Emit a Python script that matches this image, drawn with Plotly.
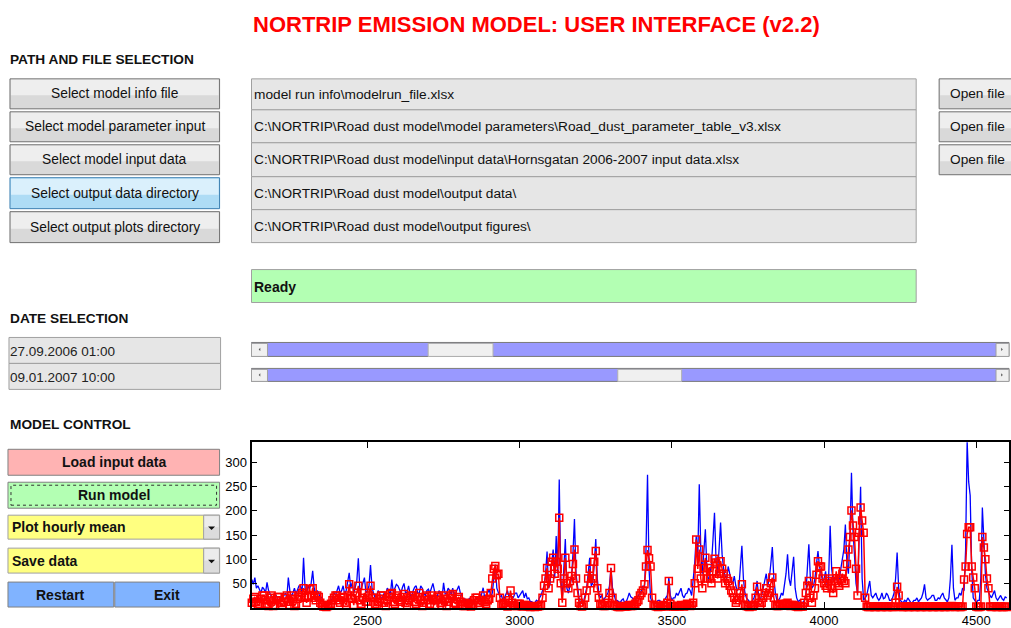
import plotly.graph_objects as go

W, H = 1011, 628

# ---------------- data ----------------
hours = list(range(2120, 4605, 5))

observed = [
    58, 48, 62, 40, 45, 35, 30, 42, 38, 30, 52, 35, 28, 22, 20, 30, 25, 18, 15, 22,
    18, 25, 30, 20, 62, 35, 22, 30, 40, 28, 35, 45, 45, 30, 103, 40, 30, 45, 38, 50,
    76, 40, 25, 35, 30, 18, 22, 12, 8, 5, 10, 6, 12, 20, 30, 25, 38, 45, 30, 35,
    45, 28, 35, 50, 72, 40, 52, 30, 40, 55, 102, 35, 40, 50, 62, 30, 35, 45, 88, 40,
    30, 20, 25, 35, 30, 18, 22, 30, 28, 40, 35, 25, 58, 30, 40, 48, 45, 35, 30, 42,
    50, 30, 32, 45, 28, 20, 35, 42, 45, 30, 30, 45, 40, 28, 25, 35, 38, 30, 42, 50,
    35, 22, 25, 35, 30, 20, 51, 28, 30, 40, 35, 28, 40, 25, 30, 38, 45, 30, 25, 15,
    18, 10, 12, 20, 15, 8, 10, 18, 20, 12, 15, 30, 41, 20, 25, 30, 38, 22, 30, 55,
    89, 40, 30, 22, 25, 15, 20, 30, 35, 22, 28, 18, 22, 30, 30, 20, 25, 30, 35, 20,
    30, 18, 20, 12, 12, 8, 10, 15, 12, 20, 25, 35, 45, 70, 116, 40, 50, 90, 120, 60,
    148, 70, 265, 60, 20, 80, 142, 40, 30, 45, 60, 110, 183, 70, 45, 20, 10, 8, 12, 25,
    40, 70, 103, 45, 50, 90, 142, 60, 30, 20, 25, 15, 20, 25, 30, 45, 82, 40, 25, 15,
    15, 12, 10, 15, 18, 10, 12, 20, 30, 22, 20, 15, 15, 20, 25, 30, 35, 45, 40, 120,
    275, 80, 20, 12, 10, 8, 12, 15, 15, 10, 10, 15, 20, 25, 62, 25, 15, 20, 20, 30,
    25, 35, 40, 25, 20, 28, 30, 40, 35, 25, 52, 90, 148, 100, 255, 120, 70, 110, 162, 80,
    52, 70, 90, 140, 196, 100, 70, 120, 176, 110, 80, 65, 60, 85, 70, 55, 50, 65, 45, 35,
    40, 80, 128, 60, 30, 20, 15, 12, 10, 15, 20, 35, 55, 25, 15, 25, 40, 55, 70, 45,
    60, 90, 125, 60, 30, 15, 15, 20, 30, 25, 45, 70, 110, 60, 45, 70, 105, 40, 20, 12,
    15, 10, 10, 15, 25, 80, 131, 60, 40, 45, 60, 90, 117, 85, 70, 55, 60, 75, 45, 60,
    169, 80, 55, 60, 65, 50, 60, 80, 105, 120, 172, 90, 70, 150, 279, 160, 107, 50, 30, 120,
    250, 60, 15, 20, 25, 40, 55, 25, 20, 25, 30, 20, 15, 20, 30, 18, 20, 30, 25, 15,
    15, 20, 30, 60, 114, 40, 15, 12, 10, 15, 12, 20, 15, 10, 10, 15, 15, 20, 12, 15,
    20, 30, 48, 20, 15, 18, 20, 25, 25, 15, 15, 20, 18, 25, 30, 20, 15, 12, 20, 60,
    130, 40, 15, 20, 20, 30, 25, 40, 35, 120, 345, 260, 232, 80, 20, 15, 10, 15, 15, 60,
    207, 140, 69, 40, 30, 25, 20, 30, 35, 20, 15, 20, 25, 18, 15, 22, 20,
]

modelled = [
    10, 18, 22, 12, 5, 8, 18, 25, 25, 15, 8, 3, 20, 25, 3, 5, 15, 22, 22, 10,
    5, 12, 20, 25, 12, 5, 25, 18, 3, 8, 18, 25, 22, 30, 40, 20, 10, 22, 38, 25,
    40, 20, 15, 25, 22, 10, 5, 2, 2, 1, 3, 5, 8, 15, 20, 25, 25, 15, 10, 20,
    22, 10, 5, 25, 48, 20, 18, 5, 25, 30, 45, 15, 8, 20, 30, 12, 12, 25, 45, 20,
    20, 8, 5, 12, 18, 25, 25, 10, 3, 15, 22, 28, 30, 12, 8, 20, 25, 15, 12, 22,
    28, 10, 5, 15, 20, 25, 25, 12, 8, 22, 30, 15, 3, 10, 22, 25, 15, 8, 25, 18,
    5, 15, 22, 25, 10, 5, 25, 18, 3, 12, 20, 25, 28, 10, 8, 18, 22, 12, 5, 3,
    3, 5, 10, 8, 2, 5, 15, 20, 20, 10, 5, 15, 25, 12, 8, 15, 18, 30, 60, 80,
    86, 67, 70, 20, 5, 8, 10, 5, 2, 15, 35, 10, 5, 3, 3, 8, 8, 3, 2, 5,
    5, 3, 2, 1, 3, 2, 1, 2, 2, 3, 5, 20, 45, 60, 82, 40, 60, 95, 103, 70,
    95, 80, 186, 50, 10, 60, 103, 50, 40, 55, 65, 90, 120, 60, 30, 10, 3, 2, 5, 20,
    35, 60, 80, 50, 60, 95, 117, 40, 20, 8, 5, 3, 3, 5, 10, 30, 82, 20, 5, 3,
    2, 1, 1, 2, 3, 2, 2, 3, 5, 3, 3, 5, 8, 12, 15, 25, 30, 35, 48, 85,
    119, 102, 85, 20, 5, 3, 2, 1, 3, 2, 5, 3, 2, 10, 55, 8, 3, 2, 2, 3,
    3, 2, 5, 3, 2, 5, 8, 5, 3, 5, 10, 50, 141, 80, 120, 60, 40, 82, 103, 60,
    82, 60, 50, 75, 101, 93, 60, 70, 96, 80, 70, 50, 60, 55, 45, 35, 30, 20, 10, 15,
    20, 30, 48, 20, 5, 3, 2, 1, 3, 2, 5, 20, 43, 10, 5, 10, 20, 30, 40, 25,
    30, 50, 62, 20, 5, 3, 3, 5, 8, 5, 5, 8, 10, 5, 3, 5, 5, 3, 2, 1,
    3, 2, 2, 10, 30, 45, 55, 20, 10, 25, 40, 68, 96, 85, 85, 60, 50, 45, 40, 55,
    60, 40, 30, 55, 75, 50, 45, 60, 70, 55, 50, 90, 120, 146, 201, 170, 146, 80, 25, 155,
    207, 180, 155, 20, 2, 1, 1, 2, 2, 1, 1, 2, 2, 1, 1, 2, 2, 1, 1, 2,
    2, 1, 1, 10, 43, 25, 2, 1, 1, 2, 2, 1, 1, 2, 2, 1, 1, 2, 2, 1,
    1, 2, 2, 1, 1, 2, 2, 1, 1, 2, 2, 1, 1, 2, 2, 1, 1, 2, 2, 1,
    3, 2, 1, 2, 2, 1, 1, 2, 58, 85, 152, 166, 166, 85, 62, 40, 2, 1, 1, 2,
    146, 124, 100, 60, 40, 2, 1, 2, 2, 1, 1, 2, 2, 1, 1, 2, 1,
]

x_tick_vals = [2500, 3000, 3500, 4000, 4500]
x_tick_text = ["2500", "3000", "3500", "4000", "4500"]
y_tick_vals = [50, 100, 150, 200, 250, 300]
y_tick_text = ["50", "100", "150", "200", "250", "300"]

title_text = "NORTRIP EMISSION MODEL: USER INTERFACE (v2.2)"
section_titles = ["PATH AND FILE SELECTION", "DATE SELECTION", "MODEL CONTROL"]
path_buttons = ["Select model info file", "Select model parameter input",
                "Select model input data", "Select output data directory",
                "Select output plots directory"]
path_fields = [r"model run info\modelrun_file.xlsx",
               r"C:\NORTRIP\Road dust model\model parameters\Road_dust_parameter_table_v3.xlsx",
               r"C:\NORTRIP\Road dust model\input data\Hornsgatan 2006-2007 input data.xlsx",
               r"C:\NORTRIP\Road dust model\output data" + "\\",
               r"C:\NORTRIP\Road dust model\output figures" + "\\"]
open_buttons = ["Open file", "Open file", "Open file"]
status_text = "Ready"
date_fields = ["27.09.2006 01:00", "09.01.2007 10:00"]
control_labels = ["Load input data", "Run model", "Plot hourly mean", "Save data", "Restart", "Exit"]

FONT = "Liberation Sans, Arial, sans-serif"

shapes = []
annotations = []


def rect(x0, y0, x1, y1, fill, line=None, lw=1, dash="solid"):
    shapes.append(dict(type="rect", xref="paper", yref="paper",
                       x0=x0 / W, x1=x1 / W, y0=1 - y1 / H, y1=1 - y0 / H,
                       fillcolor=fill,
                       line=dict(color=line if line else "rgba(0,0,0,0)",
                                 width=lw if line else 0, dash=dash),
                       layer="above"))


def tri(cx, cy, size, color, direction="down"):
    s = size
    if direction == "down":
        pts = [(cx - s, cy - s / 2), (cx + s, cy - s / 2), (cx, cy + s / 2)]
    elif direction == "left":
        pts = [(cx + s / 2, cy - s), (cx + s / 2, cy + s), (cx - s / 2, cy)]
    else:
        pts = [(cx - s / 2, cy - s), (cx - s / 2, cy + s), (cx + s / 2, cy)]
    path = "M " + " L ".join(f"{x / W:.5f},{1 - y / H:.5f}" for x, y in pts) + " Z"
    shapes.append(dict(type="path", xref="paper", yref="paper", path=path,
                       fillcolor=color, line=dict(width=0), layer="above"))


def text(x, y, s, size=13, bold=False, color="black", anchor="left"):
    annotations.append(dict(xref="paper", yref="paper", x=x / W, y=1 - y / H,
                            text=f"<b>{s}</b>" if bold else s, showarrow=False,
                            xanchor=anchor, yanchor="middle",
                            font=dict(family=FONT, size=size, color=color)))


def grey_button(x0, y0, x1, y1):
    rect(x0, y0, x1, y1, "#d9d9d9", "#707070", 1)
    rect(x0 + 1, y0 + 1, x1 - 1, y0 + (y1 - y0) * 0.55, "#eeeeee")


# ---------------- title and headers ----------------
text(538, 25, title_text, size=22, bold=True, color="#ff0000", anchor="center")
text(8, 60, section_titles[0], size=13.7, bold=True, color="#111111")
text(8, 319, section_titles[1], size=13.7, bold=True, color="#111111")
text(8, 425, section_titles[2], size=13.7, bold=True, color="#111111")

# ---------------- path buttons and fields ----------------
btn_rows = [(79, 109), (112, 142), (145, 175), (178, 209), (212, 243)]
for i, (y0, y1) in enumerate(btn_rows):
    if i == 3:
        rect(10, y0, 220, y1, "#aedcf5", "#3c7fb1", 1)
        rect(11, y0 + 1, 219, y0 + (y1 - y0) * 0.55, "#daf0fc")
    else:
        grey_button(10, y0, 220, y1)
    text(115, (y0 + y1) / 2, path_buttons[i], size=13.8, anchor="center", color="#111111")

field_rows = [(79, 110), (110, 143), (143, 177), (177, 210), (210, 243)]
for i, (y0, y1) in enumerate(field_rows):
    rect(252, y0, 918, y1, "#e6e6e6", "#a0a0a0", 1)
    text(253, (y0 + y1) / 2, path_fields[i], size=13.7, color="#111111")

for i, (y0, y1) in enumerate(btn_rows[:3]):
    grey_button(941, y0, 1016, y1)
    text(950, (y0 + y1) / 2, open_buttons[i], size=13.7, color="#111111")

# ---------------- status ----------------
rect(252, 270, 918, 303, "#b3ffb3", "#a0a0a0", 1)
text(253, 287, status_text, size=14, bold=True, color="#111111")

# ---------------- dates and sliders ----------------
date_rows = [(338, 364), (364, 390)]
for i, (y0, y1) in enumerate(date_rows):
    rect(9, y0, 221, y1, "#e6e6e6", "#a0a0a0", 1)
    text(8, (y0 + y1) / 2 + 1, date_fields[i], size=13.5, color="#222222")

slider_rows = [(343, 357, 429, 494), (369, 382, 619, 683)]
for (y0, y1, t0, t1) in slider_rows:
    rect(252, y0, 1011, y1, "#9999ff", "#7a7a7a", 1)
    rect(252, y0 + 1, 268, y1, "#f0f0f0", "#a0a0a0", 1)
    rect(998, y0 + 1, 1011, y1, "#f0f0f0", "#a0a0a0", 1)
    tri(260, (y0 + y1) / 2, 1.6, "#555555", "left")
    tri(1004, (y0 + y1) / 2, 1.6, "#555555", "right")
    rect(t0, y0 + 1, t1, y1, "#f0f0f0", "#b0b0b0", 1)

# ---------------- model control ----------------
rect(8, 450, 220, 476, "#ffb3b3", "#808080", 1)
text(114, 463, control_labels[0], size=14, bold=True, anchor="center", color="#111111")
rect(8, 483, 220, 509, "#b3ffb3", "#808080", 1)
rect(11, 486, 217, 506, "rgba(0,0,0,0)", "#333333", 1, dash="dot")
text(114, 496, control_labels[1], size=14, bold=True, anchor="center", color="#111111")

for (y0, y1, lab) in [(516, 540, control_labels[2]), (549, 574, control_labels[3])]:
    rect(8, y0, 220, y1, "#ffff80", "#a0a0a0", 1)
    rect(204, y0, 220, y1, "#dcdcdc", "#a0a0a0", 1)
    rect(205, y0 + 1, 219, y0 + (y1 - y0) * 0.5, "#ececec")
    tri(212, (y0 + y1) / 2 + 1, 3.5, "#111111", "down")
    text(10, (y0 + y1) / 2, lab, size=14, bold=True, color="#111111")

rect(8, 583, 114, 608, "#80b3ff", "#808080", 1)
rect(115, 583, 220, 608, "#80b3ff", "#808080", 1)
text(61, 595.5, control_labels[4], size=14, bold=True, anchor="center", color="#111111")
text(167, 595.5, control_labels[5], size=14, bold=True, anchor="center", color="#111111")

# ---------------- plot ----------------
fig = go.Figure()
fig.add_trace(go.Scatter(x=hours, y=observed, mode="lines",
                         line=dict(color="#0000ff", width=1.3),
                         hoverinfo="skip", showlegend=False))
fig.add_trace(go.Scatter(x=hours, y=modelled, mode="lines+markers",
                         line=dict(color="#ff0000", width=1.5),
                         marker=dict(symbol="square-open", size=7, color="#ff0000",
                                     line=dict(width=1.5, color="#ff0000")),
                         cliponaxis=False,
                         hoverinfo="skip", showlegend=False))

x_left = 2119
x_right = x_left + (W - 252) / 0.305
y_bottom_px, y_top_px = 608.5, 443

fig.update_layout(
    width=W, height=H,
    margin=dict(l=0, r=0, t=0, b=0),
    paper_bgcolor="white", plot_bgcolor="white",
    font=dict(family=FONT, size=13, color="black"),
    shapes=shapes, annotations=annotations,
    xaxis=dict(domain=[252 / W, 1.0], range=[x_left, x_right],
               tickvals=x_tick_vals, ticktext=x_tick_text,
               ticks="inside", ticklen=6, tickcolor="black", tickwidth=1,
               showline=True, linecolor="black", linewidth=1.5, mirror="ticks",
               showgrid=False, zeroline=False,
               tickfont=dict(family=FONT, size=13, color="black")),
    yaxis=dict(domain=[1 - y_bottom_px / H, 1 - y_top_px / H], range=[0, 342],
               tickvals=y_tick_vals, ticktext=y_tick_text,
               ticks="inside", ticklen=5, tickcolor="black", tickwidth=1,
               showline=True, linecolor="black", linewidth=2, mirror="ticks",
               showgrid=False, zeroline=False,
               tickfont=dict(family=FONT, size=13, color="black")),
)

fig.write_html("out.html", config={"displayModeBar": False},
               post_script="document.body.style.margin='0';document.body.style.overflow='hidden';")
